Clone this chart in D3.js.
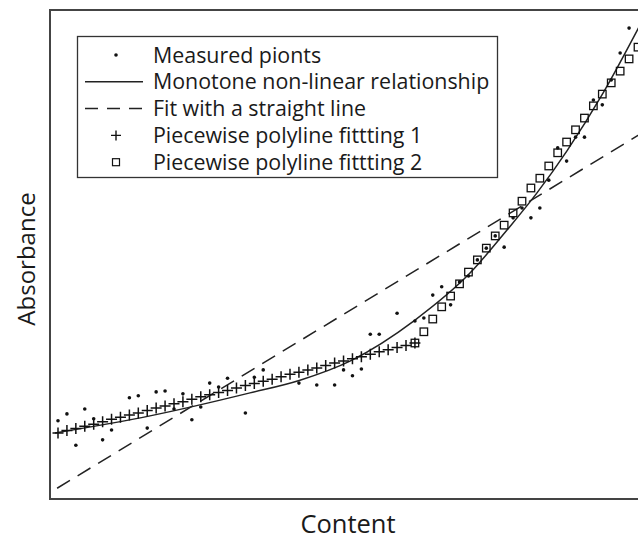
<!DOCTYPE html>
<html>
<head>
<meta charset="utf-8">
<script src="https://cdn.jsdelivr.net/npm/d3@7/dist/d3.min.js"></script>
<style>
  html, body { margin: 0; padding: 0; background: #fff; }
  svg { display: block; }
  text { font-family: "Open Sans", Lato, sans-serif; fill: #1a1a1a; }
</style>
</head>
<body>
<svg id="chart" width="638" height="539"></svg>
<script>
// Measured points (content index, absorbance)
const measuredX = [0,1,2,3,4,5,6,8,9,10,11,12,13,14,15,16,17,18,19,21,22,23,27,29,31,32,33,34,35,36,38,40,41,42,43,44,45,46,47,48,49,50,51,52,53,54,55,56,57,58,59,60,61,62,63,64];
const measuredY = [16.0,17.4,11.0,18.4,16.4,12.1,14.1,20.7,21.1,14.5,21.9,22.1,18.4,21.5,16.2,18.8,23.7,22.9,24.7,17.6,24.9,26.4,23.7,23.3,23.3,26.4,25.2,26.6,33.7,33.7,38.0,36.4,37.0,41.7,43.4,39.7,44.4,45.6,48.9,51.3,53.8,51.5,57.5,59.5,57.5,59.5,65.2,71.8,69.1,74.0,74.0,81.6,80.6,85.7,91.2,96.3];

// Monotone non-linear relationship
const curveX = [-0.34,10.31,21.52,27.12,32.72,40.01,46.17,50.32,53.68,57.04,61.08,65.22];
const curveY = [13.5,17.0,21.7,24.3,28.2,36.6,46.2,55.0,62.6,71.2,83.0,96.9];

// Fit with a straight line (end points)
const lineX = [-0.1, 65.5];
const lineY = [2.2, 74.9];

// Piecewise polyline fitting 1
const piece1X = d3.range(0, 41);
const piece1Y = [13.5,14.0,14.4,14.9,15.3,15.8,16.3,16.7,17.2,17.6,18.1,18.6,19.0,19.5,19.9,20.4,20.9,21.3,21.8,22.2,22.7,23.2,23.6,24.1,24.5,25.0,25.5,25.9,26.4,26.8,27.3,27.8,28.2,28.7,29.1,29.6,30.1,30.5,31.0,31.4,31.9];

// Piecewise polyline fitting 2
const piece2X = d3.range(40, 66);
const piece2Y = [31.9,34.2,36.8,39.3,41.5,44.0,46.4,48.9,51.3,53.8,56.0,58.5,60.9,63.6,65.6,68.1,70.8,73.0,75.5,77.9,80.4,82.8,85.1,87.5,90.0,92.4];

const legendLabels = [
  "Measured pionts",
  "Monotone non-linear relationship",
  "Fit with a straight line",
  "Piecewise polyline fittting 1",
  "Piecewise polyline fittting 2"
];
const xTitle = "Content";
const yTitle = "Absorbance";

const svg = d3.select("#chart");
const plot = { left: 50, top: 10, right: 646, bottom: 499 };

const x = d3.scaleLinear().domain([0, 65]).range([58, 638]);
const y = d3.scaleLinear().domain([0, 100]).range([plot.bottom, plot.top]);

svg.append("defs").append("clipPath").attr("id", "clip")
  .append("rect")
  .attr("x", plot.left).attr("y", plot.top)
  .attr("width", plot.right - plot.left).attr("height", plot.bottom - plot.top);

const g = svg.append("g").attr("clip-path", "url(#clip)");

const zip = (xs, ys) => xs.map((v, i) => [v, ys[i]]);
const lineGen = d3.line().x(d => x(d[0])).y(d => y(d[1]));

// straight-line fit
g.append("path")
  .attr("d", lineGen(zip(lineX, lineY)))
  .attr("fill", "none").attr("stroke", "#222").attr("stroke-width", 1.5)
  .attr("stroke-dasharray", "15,9");

// monotone curve through the read points
g.append("path")
  .attr("d", d3.line().x(d => x(d[0])).y(d => y(d[1])).curve(d3.curveMonotoneX)(zip(curveX, curveY)))
  .attr("fill", "none").attr("stroke", "#222").attr("stroke-width", 1.5);

// measured points
g.selectAll("circle.pt").data(zip(measuredX, measuredY)).join("circle")
  .attr("class", "pt")
  .attr("cx", d => x(d[0])).attr("cy", d => y(d[1])).attr("r", 1.8)
  .attr("fill", "#111");

// plus markers
const plusPath = s => `M${-s},0H${s}M0,${-s}V${s}`;
g.selectAll("path.plus").data(zip(piece1X, piece1Y)).join("path")
  .attr("class", "plus")
  .attr("transform", d => `translate(${x(d[0])},${y(d[1])})`)
  .attr("d", plusPath(5.5))
  .attr("fill", "none").attr("stroke", "#111").attr("stroke-width", 1.5);

// square markers
g.selectAll("rect.sq").data(zip(piece2X, piece2Y)).join("rect")
  .attr("class", "sq")
  .attr("x", d => x(d[0]) - 3.75).attr("y", d => y(d[1]) - 3.75)
  .attr("width", 7.5).attr("height", 7.5)
  .attr("fill", "none").attr("stroke", "#111").attr("stroke-width", 1.3);

// frame
svg.append("rect")
  .attr("x", plot.left).attr("y", plot.top)
  .attr("width", plot.right - plot.left).attr("height", plot.bottom - plot.top)
  .attr("fill", "none").attr("stroke", "#444").attr("stroke-width", 2);

// legend
const leg = svg.append("g");
leg.append("rect")
  .attr("x", 77.5).attr("y", 36.5).attr("width", 420).attr("height", 141)
  .attr("fill", "#fff").attr("stroke", "#333").attr("stroke-width", 1.3);

const rowY = i => 55 + i * 26.8;
const symX = 116;
leg.append("circle").attr("cx", symX).attr("cy", rowY(0)).attr("r", 1.8).attr("fill", "#111");
leg.append("line").attr("x1", 85).attr("x2", 143).attr("y1", rowY(1)).attr("y2", rowY(1))
  .attr("stroke", "#222").attr("stroke-width", 1.5);
leg.append("line").attr("x1", 85).attr("x2", 143).attr("y1", rowY(2)).attr("y2", rowY(2))
  .attr("stroke", "#222").attr("stroke-width", 1.5).attr("stroke-dasharray", "13,9");
leg.append("path").attr("transform", `translate(${symX},${rowY(3)})`).attr("d", plusPath(5))
  .attr("stroke", "#111").attr("stroke-width", 1.4);
leg.append("rect").attr("x", symX - 3.5).attr("y", rowY(4) - 3.5).attr("width", 7).attr("height", 7)
  .attr("fill", "none").attr("stroke", "#111").attr("stroke-width", 1.2);

leg.selectAll("text").data(legendLabels).join("text")
  .attr("x", 153).attr("y", (d, i) => rowY(i) + 7.5)
  .attr("font-size", 21.4)
  .text(d => d);

// axis titles
svg.append("text")
  .attr("x", 348).attr("y", 533).attr("text-anchor", "middle")
  .attr("font-size", 25.5).text(xTitle);
svg.append("text")
  .attr("transform", "translate(35,259) rotate(-90)")
  .attr("text-anchor", "middle")
  .attr("font-size", 24).text(yTitle);
</script>
</body>
</html>
